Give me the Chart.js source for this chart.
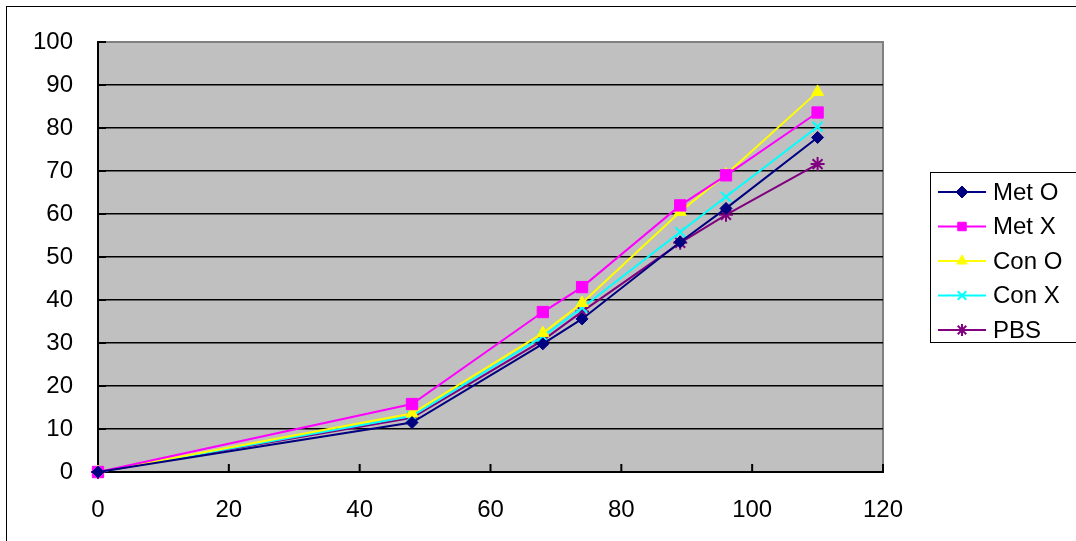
<!DOCTYPE html>
<html>
<head>
<meta charset="utf-8">
<script src="https://cdn.jsdelivr.net/npm/chart.js@4/dist/chart.umd.min.js"></script>
<style>
  html, body { margin: 0; padding: 0; background: #fff; }
  #wrap { width: 1076px; height: 541px; position: relative; }
</style>
</head>
<body>
<div id="wrap"><canvas id="grafica"></canvas></div>
<script>
// x values (days) and series
const dias = [0, 48, 68, 74, 89, 96, 110];
const metO = [0, 11.5, 29.8, 35.6, 53.5, 61.3, 77.8];
const metX = [0, 15.8, 37.2, 43.0, 62.0, 69.0, 83.6];
const conO = [0, 13.6, 32.3, 39.3, 60.5, 69.2, 88.4];
const conX = [0, 13.0, 31.5, 38.2, 55.8, 64.0, 80.3];
const pbs  = [0, 12.6, 30.6, 37.3, 53.3, 59.8, 71.6];

const nombres = ['Met O', 'Met X', 'Con O', 'Con X', 'PBS'];
const colores = ['#000080', '#FF00FF', '#FFFF00', '#00FFFF', '#800080'];
const estilos = ['rectRot', 'rect', 'triangle', 'crossRot', 'star'];
const radios  = [6, 8, 7, 7, 7];
const series  = [metO, metX, conO, conX, pbs];

const yTicks = [0, 10, 20, 30, 40, 50, 60, 70, 80, 90, 100];
const xTicks = [0, 20, 40, 60, 80, 100, 120];

const fuente = "'Liberation Sans', Arial, sans-serif";

function puntos(vals){
  let out = [];
  for (let i = 0; i < dias.length; i++) out.push({x: dias[i], y: vals[i]});
  return out;
}

let datasets = [];
for (let j = 0; j < series.length; j++) {
  datasets.push({
    label: nombres[j],
    data: puntos(series[j]),
    showLine: true,
    clip: false,
    borderColor: colores[j],
    backgroundColor: colores[j],
    pointBackgroundColor: colores[j],
    pointBorderColor: colores[j],
    pointStyle: estilos[j],
    pointRadius: radios[j],
    pointBorderWidth: (estilos[j] == 'crossRot' || estilos[j] == 'star') ? 2 : 1,
    borderWidth: 2,
    tension: 0
  });
}

// fondo gris, marco y ticks interiores
const fondo = {
  id: 'fondo',
  beforeDraw(chart){
    const c = chart.ctx, a = chart.chartArea;
    c.save();
    c.fillStyle = '#fff';
    c.fillRect(0, 0, chart.width, chart.height);
    c.strokeStyle = '#000';
    c.lineWidth = 1;
    c.strokeRect(6.5, 6.5, chart.width + 10, chart.height + 10);
    c.fillStyle = '#C0C0C0';
    c.fillRect(a.left, a.top, a.right - a.left, a.bottom - a.top);
    c.strokeStyle = '#808080';
    c.lineWidth = 2;
    c.beginPath();
    c.moveTo(a.left, a.top);
    c.lineTo(a.right, a.top);
    c.lineTo(a.right, a.bottom);
    c.stroke();
    c.restore();
  },
  beforeDatasetsDraw(chart){
    const c = chart.ctx, a = chart.chartArea;
    const sx = chart.scales.x, sy = chart.scales.y;
    c.save();
    c.strokeStyle = '#000';
    c.lineWidth = 2;
    c.beginPath();
    for (const t of xTicks) {
      const px = sx.getPixelForValue(t);
      c.moveTo(px, a.bottom);
      c.lineTo(px, a.bottom - 8);
    }
    for (const t of yTicks) {
      const py = sy.getPixelForValue(t);
      c.moveTo(a.left, py);
      c.lineTo(a.left + 8, py);
    }
    c.stroke();
    c.restore();
  }
};

// leyenda en recuadro a la derecha
const leyenda = {
  id: 'leyenda',
  afterDraw(chart){
    const c = chart.ctx;
    c.save();
    c.fillStyle = '#fff';
    c.fillRect(930, 172, 150, 171);
    c.strokeStyle = '#000';
    c.lineWidth = 1;
    c.strokeRect(930.5, 172.5, 150, 170);
    c.font = '24px ' + fuente;
    c.textBaseline = 'middle';
    chart.data.datasets.forEach(function(ds, i){
      const y = 192 + i * 34.5;
      c.strokeStyle = ds.borderColor;
      c.lineWidth = 2;
      c.beginPath();
      c.moveTo(938, y);
      c.lineTo(986, y);
      c.stroke();
      c.fillStyle = ds.backgroundColor;
      c.strokeStyle = ds.borderColor;
      c.lineWidth = ds.pointBorderWidth;
      Chart.helpers.drawPoint(c, {pointStyle: ds.pointStyle, radius: Math.min(ds.pointRadius, 6), rotation: 0, borderWidth: ds.pointBorderWidth}, 962, y);
      c.fillStyle = '#000';
      c.fillText(ds.label, 993, y + 1);
    });
    c.restore();
  }
};

const ctx = document.getElementById('grafica').getContext('2d');
const grafica = new Chart(ctx, {
  type: 'scatter',
  data: { datasets: datasets },
  plugins: [fondo, leyenda],
  options: {
    responsive: true,
    maintainAspectRatio: false,
    animation: false,
    layout: { padding: { left: 0, top: 42, right: 193, bottom: 0 } },
    plugins: {
      legend: { display: false },
      tooltip: { enabled: false }
    },
    scales: {
      x: {
        type: 'linear',
        min: 0, max: 120,
        afterFit(scale){ scale.height = 69; },
        afterBuildTicks(scale){ scale.ticks = xTicks.map(v => ({value: v})); },
        grid: { display: false, drawTicks: false },
        border: { display: true, color: '#000', width: 2 },
        ticks: { color: '#000', padding: 24, maxRotation: 0, font: { size: 24, family: fuente } }
      },
      y: {
        min: 0, max: 100,
        afterFit(scale){ scale.width = 98; },
        afterBuildTicks(scale){ scale.ticks = yTicks.map(v => ({value: v})); },
        grid: {
          drawTicks: false,
          color: ctx => ctx.tick && ctx.tick.value == 100 ? 'rgba(0,0,0,0)' : '#000',
          lineWidth: 1.5
        },
        border: { display: true, color: '#000', width: 2 },
        ticks: { color: '#000', padding: 25, font: { size: 24, family: fuente } }
      }
    }
  }
});
</script>
</body>
</html>
